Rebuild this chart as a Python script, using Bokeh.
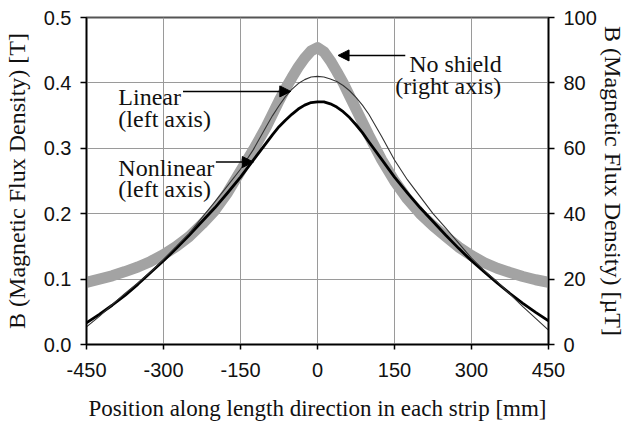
from bokeh.plotting import figure
from bokeh.models import (Range1d, LinearAxis, FixedTicker, NumeralTickFormatter,
                          Arrow, NormalHead, Label)
from bokeh.embed import file_html
from bokeh.resources import INLINE

# ---------------- data ----------------
position_mm = [-450, -425, -400, -375, -350, -325, -300, -275, -250, -225, -200,
               -175, -150, -125, -100, -87.5, -75, -62.5, -50, -37.5, -25, -12.5,
               0, 12.5, 25, 37.5, 50, 62.5, 75, 87.5, 100, 125, 150, 175, 200,
               225, 250, 275, 300, 325, 350, 375, 400, 425, 450]

nonlinear_T = [0.033, 0.046, 0.060, 0.075, 0.092, 0.110, 0.128, 0.147, 0.167, 0.188,
               0.209, 0.232, 0.256, 0.282, 0.308, 0.321, 0.333, 0.343, 0.352, 0.360,
               0.366, 0.370, 0.371, 0.371, 0.368, 0.363, 0.356, 0.347, 0.336, 0.324,
               0.310, 0.283, 0.256, 0.232, 0.209, 0.188, 0.167, 0.147, 0.128, 0.111,
               0.094, 0.078, 0.063, 0.049, 0.036]

linear_T = [0.027, 0.043, 0.061, 0.078, 0.094, 0.111, 0.130, 0.150, 0.170, 0.194,
            0.218, 0.243, 0.268, 0.298, 0.333, 0.350, 0.365, 0.379, 0.390, 0.399,
            0.405, 0.409, 0.410, 0.409, 0.406, 0.402, 0.396, 0.388, 0.378, 0.366,
            0.352, 0.318, 0.282, 0.252, 0.226, 0.200, 0.178, 0.155, 0.132, 0.113,
            0.096, 0.077, 0.058, 0.040, 0.022]

noshield_uT = [19.0, 20.0, 21.0, 22.3, 23.7, 25.4, 27.5, 30.0, 33.0, 36.8, 41.0,
               46.5, 53.0, 59.5, 66.5, 70.5, 74.5, 78.2, 81.6, 84.8, 87.6, 89.8,
               90.8, 89.5, 86.8, 83.5, 80.0, 76.0, 72.0, 68.0, 64.0, 56.5, 50.0,
               44.5, 40.0, 36.3, 33.0, 29.8, 27.2, 25.0, 23.3, 22.0, 20.8, 19.8,
               19.0]

x_ticks = [-450, -300, -150, 0, 150, 300, 450]
x_tick_labels = ["-450", "-300", "-150", "0", "150", "300", "450"]
left_ticks = [0.0, 0.1, 0.2, 0.3, 0.4, 0.5]
right_ticks = [0, 20, 40, 60, 80, 100]

SANS = "Liberation Sans"
SERIF = "Liberation Serif"

p = figure(width=628, height=423, output_backend="svg", toolbar_location=None,
           x_range=Range1d(-450, 450), y_range=Range1d(0, 0.5),
           min_border_left=83, min_border_right=77, min_border_top=17,
           min_border_bottom=78)
p.extra_y_ranges = {"right": Range1d(0, 100)}
p.background_fill_color = "white"
p.border_fill_color = "white"
p.outline_line_color = "#555555"
p.outline_line_width = 2

# axes
xa = p.xaxis[0]
ya = p.yaxis[0]
xa.ticker = FixedTicker(ticks=x_ticks)
xa.major_label_overrides = {t: s for t, s in zip(x_ticks, x_tick_labels)}
ya.ticker = FixedTicker(ticks=left_ticks)
ya.formatter = NumeralTickFormatter(format="0.0")
ra = LinearAxis(y_range_name="right", ticker=FixedTicker(ticks=right_ticks))
p.add_layout(ra, "right")

xa.axis_label = "Position along length direction in each strip [mm]"
ya.axis_label = "B (Magnetic Flux Density) [T]"
ra.axis_label = "B (Magnetic Flux Density) [\u00b5T]"

for ax, tout, stand, lstand in ((xa, 5, 13, 16), (ya, 6, 9, 11), (ra, 6, 9, 0)):
    ax.major_tick_in = 0
    ax.major_tick_out = tout
    ax.minor_tick_in = 0
    ax.minor_tick_out = 0
    ax.axis_line_color = "black"
    ax.axis_line_width = 1.5
    ax.major_tick_line_color = "black"
    ax.major_tick_line_width = 1.5
    ax.major_label_text_font = SANS
    ax.major_label_text_font_size = "20px"
    ax.major_label_text_color = "#111111"
    ax.major_label_standoff = stand
    ax.axis_label_text_font = SERIF
    ax.axis_label_text_font_size = "24px"
    ax.axis_label_text_font_style = "normal"
    ax.axis_label_text_color = "#111111"
    ax.axis_label_standoff = lstand
xa.axis_label_text_font_size = "23px"

# grid
p.xgrid.ticker = FixedTicker(ticks=x_ticks)
p.ygrid.ticker = FixedTicker(ticks=left_ticks)
for g in (p.xgrid[0], p.ygrid[0]):
    g.grid_line_color = "#9a9a9a"
    g.grid_line_width = 1

# curves
p.line(position_mm, noshield_uT, y_range_name="right", line_color="#a3a3a3",
       line_width=11, line_join="round", line_cap="round")
p.line(position_mm, nonlinear_T, line_color="black", line_width=2.8,
       line_join="round")
p.line(position_mm, linear_T, line_color="#333333", line_width=1.1,
       line_join="round")

# annotations
def label(x, y, txt, align="left"):
    p.add_layout(Label(x=x, y=y, text=txt, text_font=SERIF,
                       text_font_size="24px", text_color="#111111",
                       text_align=align, text_baseline="alphabetic"))

label(-388, 0.378, "Linear")
label(-388, 0.3445, "(left axis)")
label(-388, 0.270, "Nonlinear")
label(-388, 0.238, "(left axis)")
label(359, 0.4284, "No shield", "right")
label(358, 0.396, "(right axis)", "right")

def arrow(x0, x1, y):
    p.add_layout(Arrow(x_start=x0, y_start=y, x_end=x1, y_end=y,
                       line_color="black", line_width=1.5,
                       end=NormalHead(size=11, fill_color="black",
                                      line_color="black", line_width=1)))

arrow(-262, -52, 0.387)
arrow(-198, -125, 0.279)
arrow(171, 40, 0.442)

open("out.html", "w").write(file_html(p, INLINE))
